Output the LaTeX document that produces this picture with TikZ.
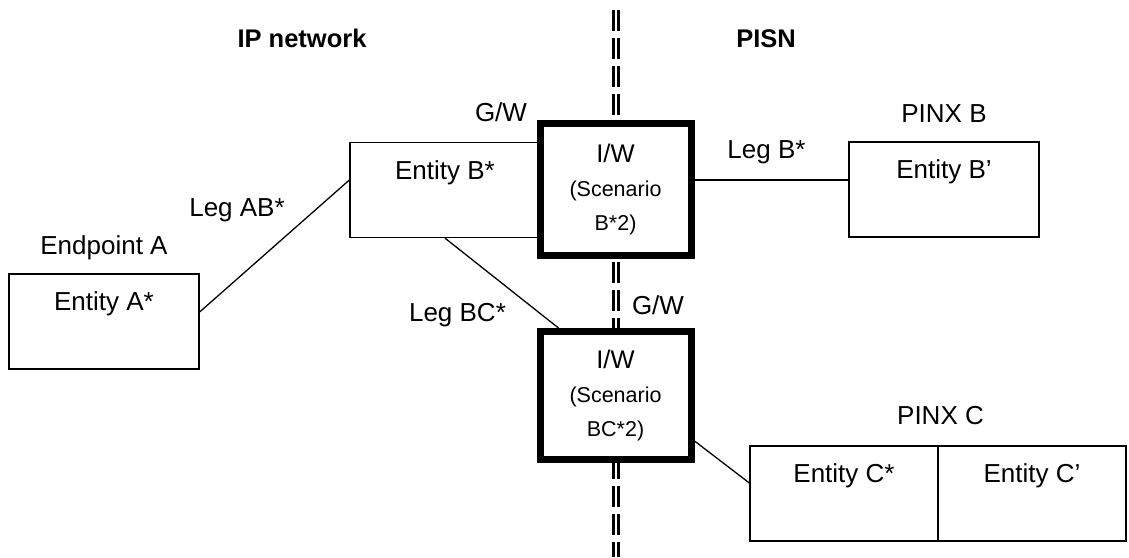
\documentclass[tikz,border=0pt]{standalone}
\usepackage{fontspec}
\setmainfont{Liberation Sans}
\newcommand\scenfont{\fontsize{21.5}{31}\selectfont}

\begin{document}
\begin{tikzpicture}[x=1pt,y=-1pt,
    ent/.style={draw=black,line width=1.3pt,fill=white,minimum height=95pt,inner sep=0pt},
    iw/.style={draw=black,line width=7pt,fill=white,minimum width=151pt,inner sep=0pt,align=center,font=\fontsize{25.5}{33.7}\selectfont},
    txt/.style={font=\fontsize{26}{30}\selectfont,inner sep=0pt,anchor=base},
    hd/.style={font=\fontsize{25.5}{30}\selectfont\bfseries,inner sep=0pt,anchor=base},
    border/.style={line width=2.7pt,double=white,double distance=2pt,dash pattern=on 21pt off 7pt},
    con/.style={line width=1.3pt}]
                \useasboundingbox (0,0) rectangle (1129,557);

                % network border
                \coordinate (btop) at (616,10);
                \coordinate (bbot) at (616,557);
                \draw [border] (btop) -- (bbot);

                \node[hd] (ipnet) at (302,47) {IP network};
                \node[hd] (pisn) at (766,47) {PISN};

                \node[ent, minimum width=190pt, label={[txt,yshift=-37.5pt]north:Entity A*}] (entA) at (104,321.5) {};
                \node[ent, minimum width=190pt, label={[txt,yshift=-37.5pt]north:Entity B*}] (entB) at (445,190) {};
                \node[ent, minimum width=190pt, label={[txt,yshift=-37.5pt]north:Entity B'}] (entBp) at (944,189.5) {};
                \node[ent, minimum width=188pt, label={[txt,yshift=-37.5pt]north:Entity C*}] (entCs) at (844,493.5) {};
                \node[ent, minimum width=188pt, label={[txt,yshift=-37.5pt]north:Entity C'}] (entCp) at (1032,493.5) {};

                \node[iw, minimum height=132pt] (iwB) at (615.5,189.5) {I/W\\\scenfont (Scenario\\\scenfont B*2)};
                \node[iw, minimum height=128pt] (iwBC) at (615.5,395.5) {I/W\\\scenfont (Scenario\\\scenfont BC*2)};

                \node[txt] (endA) at (104,254.5) {Endpoint A};
                \node[txt] (gwB) at (501,121) {G/W};
                \node[txt] (gwBC) at (658,314.5) {G/W};
                \node[txt] (pinxB) at (944,122.5) {PINX B};
                \node[txt] (pinxC) at (940.5,424.5) {PINX C};

                \draw [con] ([yshift=9.5pt]entA.east) -- ([yshift=10pt]entB.west);
                \draw [con] (entB.south) -- ([xshift=22pt]iwBC.north west);
                \draw [con] ([yshift=9.5pt]iwB.east) -- ([yshift=9.5pt]entBp.west);
                \draw [con] ([yshift=-45.5pt]iwBC.east) -- ([yshift=10.5pt]entCs.west);

                \node[txt] (legAB) at (237,216) {Leg AB*};
                \node[txt] (legBC) at (457.5,321.5) {Leg BC*};
                \node[txt] (legB) at (766.5,158) {Leg B*};
            \end{tikzpicture}
\end{document}
